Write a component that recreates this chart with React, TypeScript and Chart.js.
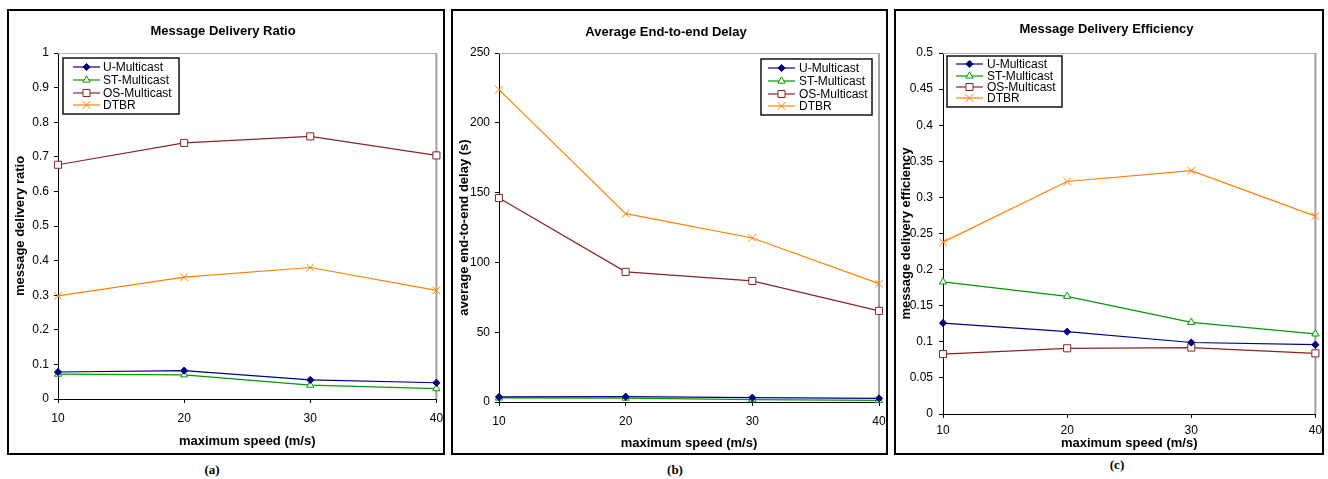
import React, { useEffect, useRef } from 'react';
import { Chart, registerables } from 'chart.js';

Chart.register(...registerables);

// ---------- data ----------
const speeds = ['10', '20', '30', '40'];
const seriesNames = ['U-Multicast', 'ST-Multicast', 'OS-Multicast', 'DTBR'];

const ratioU = [0.078, 0.082, 0.055, 0.047];
const ratioST = [0.072, 0.07, 0.04, 0.03];
const ratioOS = [0.677, 0.74, 0.759, 0.704];
const ratioDTBR = [0.298, 0.352, 0.38, 0.314];

const delayU = [3.6, 3.8, 3.1, 2.6];
const delayST = [2.9, 2.8, 1.7, 1.2];
const delayOS = [146.1, 93.2, 86.7, 65.3];
const delayDTBR = [223.8, 134.9, 117.5, 84.8];

const effU = [0.126, 0.114, 0.099, 0.096];
const effST = [0.183, 0.163, 0.127, 0.111];
const effOS = [0.083, 0.091, 0.092, 0.084];
const effDTBR = [0.238, 0.322, 0.337, 0.274];

// ---------- styles ----------
const FONT = 'Liberation Sans, Arial, Helvetica, sans-serif';
const seriesColors = ['#000080', '#009900', '#8b2323', '#ff8000'];
const seriesFills = ['#000080', '#ffffff', '#ffffff', '#ff8000'];
const seriesMarkers = ['rectRot', 'triangle', 'rect', 'crossRot'];
const seriesRadii = [3.6, 4.2, 5, 5.6];

function markerPath(ctx: CanvasRenderingContext2D, style: string, x: number, y: number, r: number) {
  ctx.beginPath();
  if (style === 'rectRot') {
    ctx.moveTo(x - r, y);
    ctx.lineTo(x, y - r);
    ctx.lineTo(x + r, y);
    ctx.lineTo(x, y + r);
    ctx.closePath();
  } else if (style === 'triangle') {
    ctx.moveTo(x, y - r);
    ctx.lineTo(x + r * 0.866, y + r / 2);
    ctx.lineTo(x - r * 0.866, y + r / 2);
    ctx.closePath();
  } else if (style === 'rect') {
    const s = r * Math.SQRT1_2;
    ctx.rect(x - s, y - s, 2 * s, 2 * s);
  } else {
    const o = r * Math.SQRT1_2;
    ctx.moveTo(x - o, y - o);
    ctx.lineTo(x + o, y + o);
    ctx.moveTo(x + o, y - o);
    ctx.lineTo(x - o, y + o);
  }
}

const framePlugin = {
  id: 'plotFrame',
  beforeDatasetsDraw(chart: any) {
    const { ctx, chartArea: a } = chart;
    ctx.save();
    ctx.strokeStyle = '#b8b8b8';
    ctx.lineWidth = 1;
    ctx.beginPath();
    ctx.moveTo(a.left, a.top + 0.5);
    ctx.lineTo(a.right, a.top + 0.5);
    ctx.stroke();
    ctx.strokeStyle = '#a0a0a0';
    ctx.lineWidth = 2;
    ctx.beginPath();
    ctx.moveTo(a.right, a.top);
    ctx.lineTo(a.right, a.bottom);
    ctx.stroke();
    ctx.restore();
  },
};

const legendPlugin = {
  id: 'boxLegend',
  afterDraw(chart: any, _args: any, opts: any) {
    if (!opts || !opts.box) return;
    const { ctx } = chart;
    const b = opts.box;
    ctx.save();
    ctx.fillStyle = '#fff';
    ctx.fillRect(b.x, b.y, b.w, b.h);
    ctx.strokeStyle = '#111';
    ctx.lineWidth = 1.5;
    ctx.strokeRect(b.x, b.y, b.w, b.h);
    ctx.font = `12px ${FONT}`;
    ctx.textBaseline = 'middle';
    ctx.textAlign = 'left';
    seriesNames.forEach((name, i) => {
      const y = opts.rows[i];
      ctx.strokeStyle = seriesColors[i];
      ctx.lineWidth = 1.2;
      ctx.beginPath();
      ctx.moveTo(opts.x1, y);
      ctx.lineTo(opts.x2, y);
      ctx.stroke();
      const mx = (opts.x1 + opts.x2) / 2;
      markerPath(ctx, seriesMarkers[i], mx, y, seriesRadii[i]);
      if (seriesMarkers[i] !== 'crossRot') {
        ctx.fillStyle = seriesFills[i];
        ctx.fill();
      }
      ctx.lineWidth = 1;
      ctx.stroke();
      ctx.fillStyle = '#000';
      ctx.fillText(name, opts.tx, y + 0.5);
    });
    ctx.restore();
  },
};

type PanelCfg = {
  left: number;
  width: number;
  title: string;
  yTitle: string;
  yMax: number;
  yStep: number;
  values: number[][];
  padRight: number;
  titleTop: number;
  yWidth: number;
  xHeight: number;
  xTickPad: number;
  xTitlePad: number;
  yTitlePad: number;
  yTickPad: number;
  legend: any;
  caption: string;
  capX: number;
  capY: number;
};

const panels: PanelCfg[] = [
  {
    left: 7, width: 438, title: 'Message Delivery Ratio', yTitle: 'message delivery ratio',
    yMax: 1, yStep: 0.1, values: [ratioU, ratioST, ratioOS, ratioDTBR],
    padRight: 6, titleTop: 12.2, yWidth: 49, xHeight: 54, xTickPad: 8, xTitlePad: 4.2, yTitlePad: 3.2, yTickPad: 5,
    legend: { box: { x: 54, y: 47, w: 116, h: 56 }, rows: [56, 69, 82, 94], x1: 64, x2: 91, tx: 94 },
    caption: '(a)', capX: 212, capY: 470,
  },
  {
    left: 451, width: 437, title: 'Average End-to-end Delay', yTitle: 'average end-to-end delay (s)',
    yMax: 250, yStep: 50, values: [delayU, delayST, delayOS, delayDTBR],
    padRight: 7, titleTop: 13.2, yWidth: 46, xHeight: 51, xTickPad: 8, xTitlePad: 2.2, yTitlePad: 3.2, yTickPad: 5,
    legend: { box: { x: 308, y: 48, w: 111, h: 56 }, rows: [57, 70, 83, 95], x1: 315, x2: 342, tx: 346 },
    caption: '(b)', capX: 675, capY: 470,
  },
  {
    left: 894, width: 430, title: 'Message Delivery Efficiency', yTitle: 'message delivery efficiency',
    yMax: 0.5, yStep: 0.05, values: [effU, effST, effOS, effDTBR],
    padRight: 5, titleTop: 10.2, yWidth: 47, xHeight: 39, xTickPad: 5, xTitlePad: 2.2, yTitlePad: 2.2, yTickPad: 6,
    legend: { box: { x: 51, y: 45, w: 115, h: 51 }, rows: [53, 65, 76, 87], x1: 60, x2: 87, tx: 91 },
    caption: '(c)', capX: 1117, capY: 465,
  },
];

function buildConfig(p: PanelCfg): any {
  const datasets = p.values.map((vals, i) => ({
    label: seriesNames[i],
    data: vals,
    borderColor: seriesColors[i],
    backgroundColor: seriesFills[i],
    pointStyle: seriesMarkers[i],
    pointRadius: seriesRadii[i],
    pointBorderColor: seriesColors[i],
    pointBackgroundColor: seriesFills[i],
    pointBorderWidth: 1,
    borderWidth: 1.2,
    tension: 0,
    clip: false,
  }));
  const tickFont = { family: FONT, size: 12 };
  const titleFont = { family: FONT, size: 13, weight: 'bold' as const };
  return {
    type: 'line',
    data: { labels: speeds, datasets },
    options: {
      animation: false,
      responsive: false,
      devicePixelRatio: 1,
      layout: { padding: { left: 0, top: 0, bottom: 0, right: p.padRight } },
      plugins: {
        legend: { display: false },
        tooltip: { enabled: false },
        title: {
          display: true,
          text: p.title,
          color: '#000',
          font: titleFont,
          padding: { top: p.titleTop, bottom: 42 - p.titleTop - 15.6 },
        },
        boxLegend: p.legend,
      },
      scales: {
        x: {
          type: 'category',
          offset: false,
          grid: { display: true, drawOnChartArea: false, drawTicks: true, tickLength: 4, color: '#000' },
          border: { display: true, color: '#000', width: 1 },
          ticks: { color: '#000', font: tickFont, padding: p.xTickPad, maxRotation: 0, autoSkip: false },
          title: {
            display: true,
            text: 'maximum speed (m/s)',
            color: '#000',
            font: titleFont,
            padding: { top: 0, bottom: p.xTitlePad },
          },
          afterFit: (s: any) => {
            s.height = p.xHeight;
            s.paddingLeft = 0;
            s.paddingRight = 0;
          },
        },
        y: {
          type: 'linear',
          min: 0,
          max: p.yMax,
          grid: { display: true, drawOnChartArea: false, drawTicks: true, tickLength: 4, color: '#000' },
          border: { display: true, color: '#000', width: 1 },
          ticks: {
            stepSize: p.yStep,
            color: '#000',
            font: tickFont,
            padding: p.yTickPad,
            callback: (v: any) => String(Number(Number(v).toFixed(3))),
          },
          title: {
            display: true,
            text: p.yTitle,
            color: '#000',
            font: titleFont,
            padding: { top: p.yTitlePad, bottom: 0 },
          },
          afterFit: (s: any) => {
            s.width = p.yWidth;
            s.paddingTop = 0;
            s.paddingBottom = 0;
          },
        },
      },
    },
    plugins: [framePlugin, legendPlugin],
  };
}

function Panel({ cfg }: { cfg: PanelCfg }) {
  const ref = useRef<HTMLCanvasElement>(null);
  useEffect(() => {
    const chart = new Chart(ref.current as HTMLCanvasElement, buildConfig(cfg));
    return () => chart.destroy();
  }, [cfg]);
  const cw = cfg.width - 4;
  return (
    <>
      <div
        style={{
          position: 'absolute',
          left: cfg.left,
          top: 9,
          width: cfg.width,
          height: 446,
          border: '2px solid #000',
          boxSizing: 'border-box',
          background: '#fff',
          overflow: 'hidden',
        }}
      >
        <canvas ref={ref} width={cw} height={442} style={{ display: 'block', width: cw, height: 442 }} />
      </div>
      <div
        style={{
          position: 'absolute',
          left: cfg.capX - 20,
          top: cfg.capY - 8,
          width: 40,
          height: 16,
          lineHeight: '16px',
          textAlign: 'center',
          fontFamily: 'Liberation Serif, Times New Roman, serif',
          fontWeight: 'bold',
          fontSize: 13,
          color: '#000',
        }}
      >
        {cfg.caption}
      </div>
    </>
  );
}

export default function App() {
  return (
    <div style={{ position: 'absolute', left: 0, top: 0, width: 1328, height: 479, background: '#fff' }}>
      {panels.map((p) => (
        <Panel key={p.caption} cfg={p} />
      ))}
    </div>
  );
}
